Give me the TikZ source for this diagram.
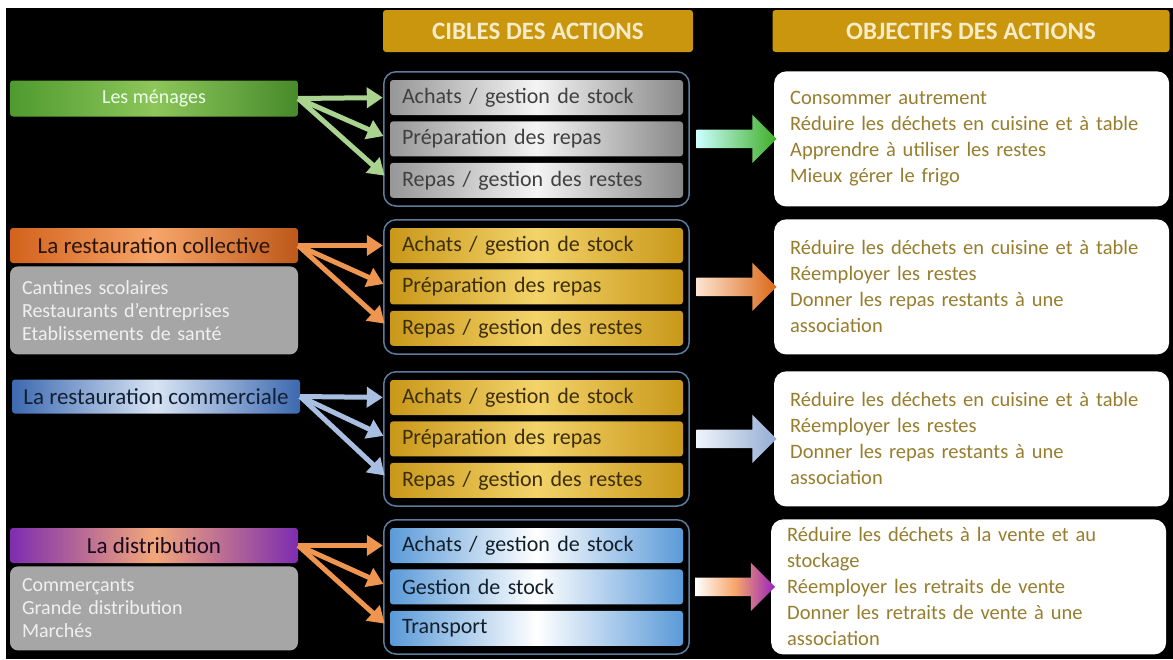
\documentclass[tikz,border=0pt]{standalone}
\usepackage{fontspec}
\setmainfont{Carlito}
\usepackage{xcolor}
\usepackage{tikz}
\usetikzlibrary{positioning, arrows.meta, fit, shapes.arrows, calc}
\definecolor{goldhead}{HTML}{C9960E}
\definecolor{headtext}{HTML}{F7ECC9}
\definecolor{objtext}{HTML}{977E2E}
\definecolor{framecol}{HTML}{5C7C9C}
\definecolor{graybox}{HTML}{A6A6A6}
\definecolor{metalA}{HTML}{979797}
\definecolor{metalB}{HTML}{F4F4F4}
\definecolor{goldA}{HTML}{C9981A}
\definecolor{goldB}{HTML}{F3D36A}
\definecolor{blueA}{HTML}{5A9AD8}
\definecolor{greenA}{HTML}{4F9A2F}
\definecolor{greenB}{HTML}{8DC65A}
\definecolor{orangeA}{HTML}{D2621C}
\definecolor{orangeB}{HTML}{F7A56A}
\definecolor{navyA}{HTML}{3D69B0}
\definecolor{navyB}{HTML}{D8E4F4}
\definecolor{purpleA}{HTML}{7D2DB0}
\definecolor{peachB}{HTML}{F2A77A}
\definecolor{greenfeed}{HTML}{A9D38E}
\definecolor{orangefeed}{HTML}{EE9650}
\definecolor{bluefeed}{HTML}{A9BFE2}

\begin{document}
\begin{tikzpicture}[x=1pt, y=-1pt,
    header/.style={fill=goldhead, rounded corners=3pt, minimum height=42pt, inner sep=0pt,
      text=headtext, font=\fontsize{25}{28}\selectfont\bfseries},
    whobox/.style={rounded corners=3pt, minimum width=288pt, minimum height=36pt, inner sep=0pt,
      font=\fontsize{23}{26}\selectfont},
    subbox/.style={fill=graybox, rounded corners=8pt, text width=264pt, inner xsep=12pt,
      inner ysep=6pt, minimum height=88pt, align=left, text=white!88!gray,
      font=\fontsize{20}{23}\selectfont},
    tgtbox/.style={rounded corners=3pt, text width=269pt, inner xsep=12pt, inner ysep=0pt,
      minimum height=35pt, align=left, font=\fontsize{22}{26}\selectfont},
    grpbox/.style={draw=framecol, line width=1.5pt, rounded corners=12pt, inner xsep=6pt, inner ysep=8pt},
    objbox/.style={fill=white, rounded corners=12pt, text width=363pt, inner xsep=16pt, align=left,
      minimum height=135pt, text=objtext, font=\fontsize{20.5}{26}\selectfont},
    bigarrow/.style={single arrow, minimum height=80pt, minimum width=48pt,
      single arrow head extend=15pt, inner ysep=9pt, inner xsep=0pt},
    feed/.style={line width=5pt, -{Triangle[length=16pt,width=20pt]}, shorten >=7pt},
    metal/.style={left color=metalA, right color=metalA!90!black, middle color=metalB, text=black!75},
    gold/.style={left color=goldA, right color=goldA, middle color=goldB, text=black!70!goldA},
    sky/.style={left color=blueA, right color=blueA, middle color=white, text=black!80!blueA}
  ]
  \useasboundingbox (0,0) rectangle (1173,659);
  \fill[white] (0,0) rectangle (1173,659);
  \fill[black] (6,8) rectangle (1173,659);

  \node[header, minimum width=310pt] (hd1) at (538,31) {CIBLES DES ACTIONS};
  \node[header, minimum width=397pt] (hd2) at (971,31) {OBJECTIFS DES ACTIONS};

  % les menages
  \node[whobox, left color=greenA, right color=greenA!90!black, middle color=greenB,
        text=white!92!green, font=\fontsize{20}{24}\selectfont] (lab1) at (154,98.5) {Les ménages};
  \node[tgtbox, metal] (tgt1a) at (536.5,97.5) {Achats / gestion de stock};
  \node[tgtbox, metal, below=6pt of tgt1a] (tgt1b) {Préparation des repas};
  \node[tgtbox, metal, below=6pt of tgt1b] (tgt1c) {Repas / gestion des restes};
  \node[grpbox, fit=(tgt1a)(tgt1c)] (grp1) {};
  \node[objbox, right=84pt of grp1] (obj1) {Consommer autrement\\Réduire les déchets en cuisine et à table\\
    Apprendre à utiliser les restes\\Mieux gérer le frigo};
  \node[bigarrow, left color=white!80!cyan, right color=greenA!80!green] (arr1)
    at ($(grp1.east)!0.5!(obj1.west)$) {};
  \foreach \t in {a,b,c}
    \draw[feed, greenfeed] (lab1.east) -- (tgt1\t.west);

  % restauration collective
  \node[whobox, minimum height=35pt, left color=orangeA, right color=orangeA!90!black,
        middle color=orangeB, text=black!80!orangeA] (lab2) at (154,245.5) {La restauration collective};
  \node[subbox, below=3pt of lab2] (sub2) {Cantines scolaires\\Restaurants d'entreprises\\Etablissements de santé};
  \node[tgtbox, gold] (tgt2a) at (536.5,245.5) {Achats / gestion de stock};
  \node[tgtbox, gold, below=6pt of tgt2a] (tgt2b) {Préparation des repas};
  \node[tgtbox, gold, below=6pt of tgt2b] (tgt2c) {Repas / gestion des restes};
  \node[grpbox, fit=(tgt2a)(tgt2c)] (grp2) {};
  \node[objbox, right=84pt of grp2] (obj2) {Réduire les déchets en cuisine et à table\\Réemployer les restes\\
    Donner les repas restants à une\\association};
  \node[bigarrow, left color=orangeB!30!white, right color=orangeA!80!orange] (arr2)
    at ($(grp2.east)!0.5!(obj2.west)$) {};
  \foreach \t in {a,b,c}
    \draw[feed, orangefeed] (lab2.east) -- (tgt2\t.west);

  % restauration commerciale
  \node[whobox, minimum height=34pt, left color=navyA, right color=navyA, middle color=navyB,
        text=black!70!navyA] (lab3) at (156,396.5) {La restauration commerciale};
  \node[tgtbox, gold] (tgt3a) at (536.5,397.5) {Achats / gestion de stock};
  \node[tgtbox, gold, below=6pt of tgt3a] (tgt3b) {Préparation des repas};
  \node[tgtbox, gold, below=6pt of tgt3b] (tgt3c) {Repas / gestion des restes};
  \node[grpbox, fit=(tgt3a)(tgt3c)] (grp3) {};
  \node[objbox, right=84pt of grp3] (obj3) {Réduire les déchets en cuisine et à table\\Réemployer les restes\\
    Donner les repas restants à une\\association};
  \node[bigarrow, left color=navyB!40!white, right color=navyA!55!white] (arr3)
    at ($(grp3.east)!0.5!(obj3.west)$) {};
  \foreach \t in {a,b,c}
    \draw[feed, bluefeed] (lab3.east) -- (tgt3\t.west);

  % distribution
  \node[whobox, minimum height=35pt, left color=purpleA, right color=purpleA, middle color=peachB,
        text=black!80!purpleA] (lab4) at (154,545.5) {La distribution};
  \node[subbox, minimum height=84pt, below=3pt of lab4] (sub4) {Commerçants\\Grande distribution\\Marchés};
  \node[tgtbox, sky] (tgt4a) at (536.5,545.5) {Achats / gestion de stock};
  \node[tgtbox, sky, below=6pt of tgt4a] (tgt4b) {Gestion de stock};
  \node[tgtbox, sky, below=6pt of tgt4b] (tgt4c) {Transport};
  \node[grpbox, fit=(tgt4a)(tgt4c)] (grp4) {};
  \node[objbox, right=81pt of grp4] (obj4) {Réduire les déchets à la vente et au\\stockage\\
    Réemployer les retraits de vente\\Donner les retraits de vente à une\\association};
  \node[bigarrow, left color=white, right color=purpleA!80!magenta, middle color=orangeB] (arr4)
    at ($(grp4.east)!0.5!(obj4.west)$) {};
  \foreach \t in {a,b,c}
    \draw[feed, orangefeed] (lab4.east) -- (tgt4\t.west);
\end{tikzpicture}
\end{document}
